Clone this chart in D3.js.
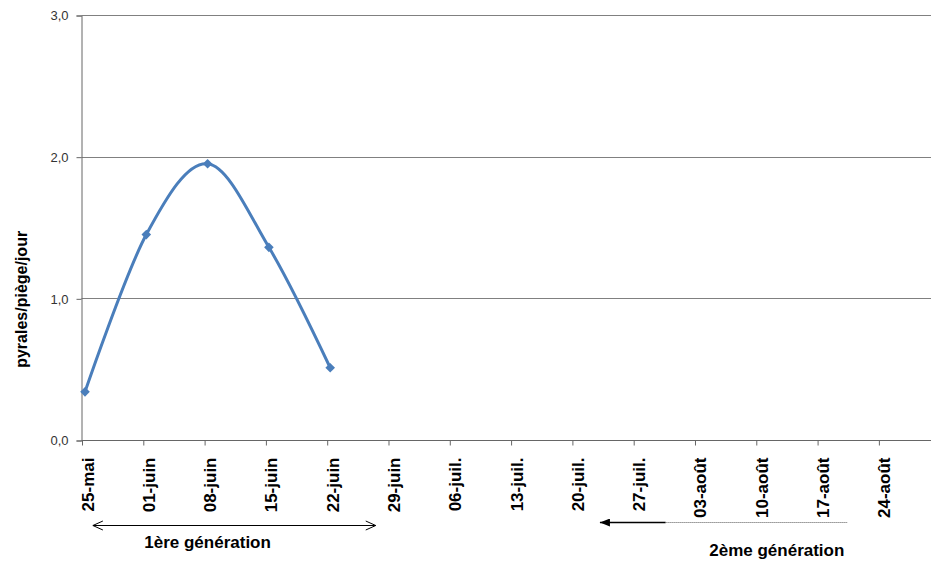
<!DOCTYPE html>
<html>
<head>
<meta charset="utf-8">
<script src="https://cdn.jsdelivr.net/npm/d3@7"></script>
<style>
  html, body { margin: 0; padding: 0; background: #fff; }
  svg { display: block; font-family: Arial, "Liberation Sans", sans-serif; }
</style>
</head>
<body>
<div id="app"></div>
<script>
// semaines affichées sur l'axe (jours depuis le 25-mai)
const tickDays = [0, 7, 14, 21, 28, 35, 42, 49, 56, 63, 70, 77, 84, 91]
const tickLabels = ['25-mai', '01-juin', '08-juin', '15-juin', '22-juin', '29-juin', '06-juil.',
  '13-juil.', '20-juil.', '27-juil.', '03-août', '10-août', '17-août', '24-août']
// relevés de piégeage
const obsDays = [0, 7, 14, 21, 28]
const obsValues = [0.34, 1.45, 1.95, 1.36, 0.51]
const yTicks = [0, 1, 2, 3]

const width = 931
const height = 561
const margin = { top: 15, left: 81.5, bottom: 121 }
const pointShift = 0.4 // Excel place le point un peu après la graduation

const svg = d3.select('#app')
  .append('svg')
  .attr('width', width)
  .attr('height', height)

const x = d3.scaleLinear()
  .domain([0, 98])
  .range([margin.left, margin.left + 98 * 8.757])
const y = d3.scaleLinear()
  .domain([0, 3])
  .range([height - margin.bottom, margin.top])

// quadrillage horizontal
svg.append('g')
  .selectAll('line')
  .data(yTicks)
  .enter()
  .append('line')
  .attr('x1', margin.left)
  .attr('x2', width)
  .attr('y1', d => Math.round(y(d)) + 0.5)
  .attr('y2', d => Math.round(y(d)) + 0.5)
  .attr('stroke', '#808080')
  .attr('stroke-width', 1)

// axe y
const yAxis = d3.axisLeft(y)
  .tickValues(yTicks)
  .tickSize(5)
  .tickPadding(8)
  .tickFormat(d => d3.format('.1f')(d).replace('.', ','))
const gy = svg.append('g')
  .attr('transform', `translate(${margin.left}, 0.5)`)
  .call(yAxis)
gy.select('.domain').attr('stroke', '#666')
gy.selectAll('.tick line').attr('stroke', '#666')
gy.selectAll('.tick text')
  .attr('font-size', 13)
  .attr('fill', '#333')
  .attr('font-family', 'Arial, "Liberation Sans", sans-serif')

// axe x
const xAxis = d3.axisBottom(x)
  .tickValues(tickDays)
  .tickSize(5)
  .tickSizeOuter(0)
  .tickFormat((d, i) => tickLabels[i])
const gx = svg.append('g')
  .attr('transform', `translate(0.5, ${Math.round(y(0)) + 0.5})`)
  .call(xAxis)
gx.select('.domain')
  .attr('d', `M${margin.left},0H${width}`)
  .attr('stroke', '#666')
gx.selectAll('.tick line').attr('stroke', '#666')
gx.selectAll('.tick text')
  .attr('transform', 'rotate(-90)')
  .attr('text-anchor', 'end')
  .attr('x', -17)
  .attr('y', 11)
  .attr('dy', 0)
  .attr('font-size', 17)
  .attr('font-weight', 'bold')
  .attr('fill', '#000')
  .attr('font-family', 'Arial, "Liberation Sans", sans-serif')

// titre de l'axe y
svg.append('text')
  .attr('transform', `translate(27, ${y(1) + 1}) rotate(-90)`)
  .attr('text-anchor', 'middle')
  .attr('font-size', 16)
  .attr('font-weight', 'bold')
  .text('pyrales/piège/jour')

// courbe lissée
const pts = obsDays.map((d, i) => [x(d + pointShift), y(obsValues[i])])
const line = d3.line().curve(d3.curveCatmullRom.alpha(0))
svg.append('path')
  .attr('d', line(pts))
  .attr('fill', 'none')
  .attr('stroke', '#4A7EBB')
  .attr('stroke-width', 3)

const marker = d3.symbol(d3.symbolSquare).size(46)
svg.append('g')
  .selectAll('path')
  .data(pts)
  .enter()
  .append('path')
  .attr('transform', d => `translate(${d[0]}, ${d[1]}) rotate(45)`)
  .attr('d', marker())
  .attr('fill', '#4A7EBB')

// flèches des générations
const defs = svg.append('defs')
defs.append('marker')
  .attr('id', 'open')
  .attr('viewBox', '0 0 12 12')
  .attr('refX', 11)
  .attr('refY', 6)
  .attr('markerWidth', 12)
  .attr('markerHeight', 12)
  .attr('markerUnits', 'userSpaceOnUse')
  .attr('orient', 'auto-start-reverse')
  .append('path')
  .attr('d', 'M1,1.5L11,6L1,10.5')
  .attr('fill', 'none')
  .attr('stroke', '#000')
  .attr('stroke-width', 1)
defs.append('marker')
  .attr('id', 'fill')
  .attr('viewBox', '0 0 10 8')
  .attr('refX', 10)
  .attr('refY', 4)
  .attr('markerWidth', 10)
  .attr('markerHeight', 8)
  .attr('markerUnits', 'userSpaceOnUse')
  .attr('orient', 'auto')
  .append('path')
  .attr('d', 'M0,0L10,4L0,8Z')
  .attr('fill', '#000')

const arrowY1 = 525.5
svg.append('line')
  .attr('x1', x(1.3))
  .attr('x2', x(33.6))
  .attr('y1', arrowY1)
  .attr('y2', arrowY1)
  .attr('stroke', '#000')
  .attr('stroke-width', 1)
  .attr('marker-start', 'url(#open)')
  .attr('marker-end', 'url(#open)')
svg.append('text')
  .attr('x', x(14.4))
  .attr('y', 548)
  .attr('text-anchor', 'middle')
  .attr('font-size', 17)
  .attr('font-weight', 'bold')
  .text('1ère génération')

const arrowY2 = 522.5
svg.append('line')
  .attr('x1', x(66.7))
  .attr('x2', x(59.2))
  .attr('y1', arrowY2)
  .attr('y2', arrowY2)
  .attr('stroke', '#000')
  .attr('stroke-width', 1.5)
  .attr('marker-end', 'url(#fill)')
svg.append('line')
  .attr('x1', x(66.7))
  .attr('x2', x(87.5))
  .attr('y1', arrowY2)
  .attr('y2', arrowY2)
  .attr('stroke', '#555')
  .attr('stroke-width', 1)
  .attr('stroke-dasharray', '1,1')
svg.append('text')
  .attr('x', x(79.4))
  .attr('y', 556)
  .attr('text-anchor', 'middle')
  .attr('font-size', 17)
  .attr('font-weight', 'bold')
  .text('2ème génération')
</script>
</body>
</html>
